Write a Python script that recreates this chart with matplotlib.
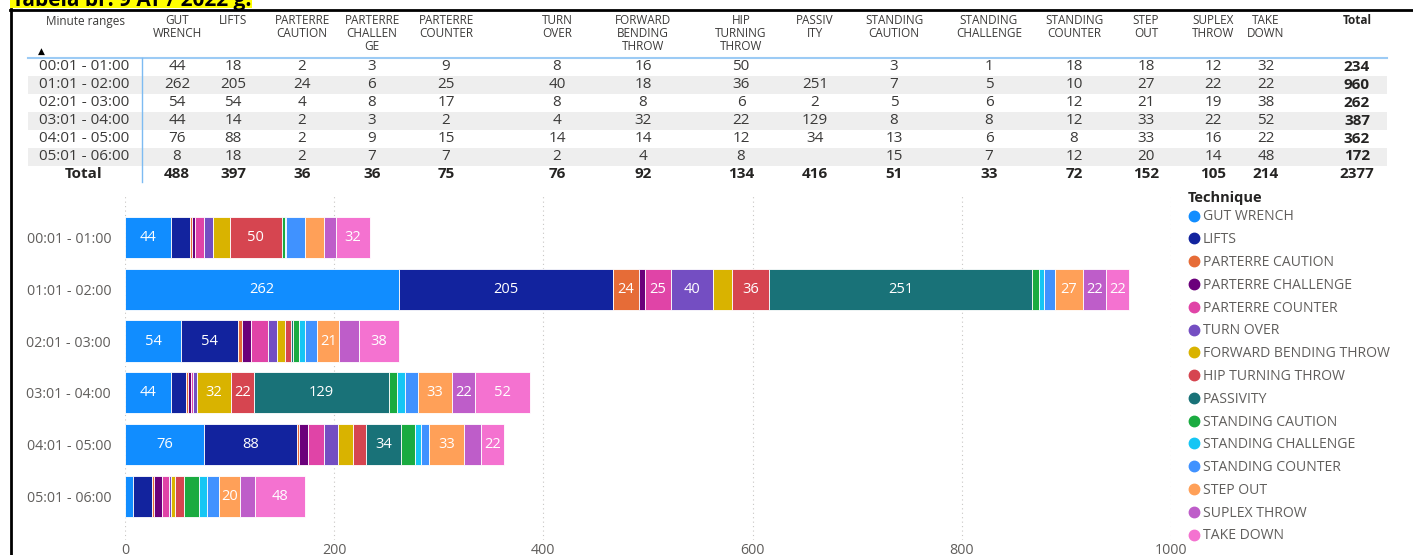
import matplotlib.pyplot as plt
from matplotlib.lines import Line2D
from matplotlib.patches import Rectangle

plt.rcParams['font.family'] = ['Open Sans', 'DejaVu Sans']

minute_ranges = ["00:01 - 01:00", "01:01 - 02:00", "02:01 - 03:00",
                 "03:01 - 04:00", "04:01 - 05:00", "05:01 - 06:00"]
techniques = ["GUT WRENCH", "LIFTS", "PARTERRE CAUTION", "PARTERRE CHALLENGE",
              "PARTERRE COUNTER", "TURN OVER", "FORWARD BENDING THROW",
              "HIP TURNING THROW", "PASSIVITY", "STANDING CAUTION",
              "STANDING CHALLENGE", "STANDING COUNTER", "STEP OUT",
              "SUPLEX THROW", "TAKE DOWN"]
header_labels = ["GUT\nWRENCH", "LIFTS", "PARTERRE\nCAUTION", "PARTERRE\nCHALLEN\nGE",
                 "PARTERRE\nCOUNTER", "TURN\nOVER", "FORWARD\nBENDING\nTHROW",
                 "HIP\nTURNING\nTHROW", "PASSIV\nITY", "STANDING\nCAUTION",
                 "STANDING\nCHALLENGE", "STANDING\nCOUNTER", "STEP\nOUT",
                 "SUPLEX\nTHROW", "TAKE\nDOWN"]
counts = [
    [44, 18, 2, 3, 9, 8, 16, 50, None, 3, 1, 18, 18, 12, 32],
    [262, 205, 24, 6, 25, 40, 18, 36, 251, 7, 5, 10, 27, 22, 22],
    [54, 54, 4, 8, 17, 8, 8, 6, 2, 5, 6, 12, 21, 19, 38],
    [44, 14, 2, 3, 2, 4, 32, 22, 129, 8, 8, 12, 33, 22, 52],
    [76, 88, 2, 9, 15, 14, 14, 12, 34, 13, 6, 8, 33, 16, 22],
    [8, 18, 2, 7, 7, 2, 4, 8, None, 15, 7, 12, 20, 14, 48],
]
colors = ["#118DFF", "#12239E", "#E66C37", "#6B007B", "#E044A7", "#744EC2",
          "#D9B300", "#D64550", "#197278", "#1AAB40", "#15C6F4", "#4092FF",
          "#FFA058", "#BE5DC9", "#F472D0"]

W, H = 1413, 555
fig = plt.figure(figsize=(W / 100, H / 100), dpi=100)

# ---- overlay in pixel coords for the table and frame
ov = fig.add_axes([0, 0, 1, 1], zorder=0)
ov.set_xlim(0, W)
ov.set_ylim(H, 0)
ov.axis('off')

ov.add_patch(Rectangle((10, -5), 242, 13, color='#FFFF00', lw=0))
ov.text(12, 6, "Tabela br. 9 AT / 2022 g.", fontsize=15, fontweight='bold',
        va='baseline', ha='left', color='black')
ov.plot([10, W], [9.5, 9.5], color='black', lw=2)
ov.plot([10.5, 10.5], [9, H], color='black', lw=2)

col_x = [177, 233, 302, 372, 446, 557, 643, 741, 815, 894, 989, 1074, 1146, 1213, 1266]
total_x = 1357
row_y = [67 + 17.9 * i for i in range(7)]
txt = '#3B3A39'
hsize = 8.5
vsize = 11

ov.text(85, 14.5, "Minute ranges", fontsize=hsize, ha='center', va='top', color=txt)
ov.text(41, 51, "\u25B2", fontsize=6.5, ha='center', va='center', color='black')
for x, lab in zip(col_x, header_labels):
    ov.text(x, 14.5, lab, fontsize=hsize, ha='center', va='top', color=txt,
            linespacing=0.97)
ov.text(total_x, 14.5, "Total", fontsize=hsize, ha='center', va='top', color='#252423',
        fontweight='bold')

for i in range(1, 6, 2):
    ov.add_patch(Rectangle((28, row_y[i] - 9), 1387 - 28, 18, color='#EEEEEE', lw=0))
ov.plot([28, 1387], [58, 58], color='#9CCBF5', lw=1.5)
ov.plot([142, 142], [58, 182], color='#7DBBF2', lw=1)

for i, (lab, row) in enumerate(zip(minute_ranges, counts)):
    y = row_y[i]
    ov.text(84, y, lab, fontsize=vsize, ha='center', va='center', color=txt)
    for x, v in zip(col_x, row):
        if v is not None:
            ov.text(x, y, str(v), fontsize=vsize, ha='center', va='center', color=txt)
    ov.text(total_x, y, str(sum(v or 0 for v in row)), fontsize=vsize, ha='center',
            va='center', color='#252423', fontweight='bold')

y = row_y[6]
ov.text(84, y, "Total", fontsize=vsize, ha='center', va='center', color='#252423',
        fontweight='bold')
for j, x in enumerate(col_x):
    ov.text(x, y, str(sum(r[j] or 0 for r in counts)), fontsize=vsize, ha='center',
            va='center', color='#252423', fontweight='bold')
ov.text(total_x, y, str(sum(sum(v or 0 for v in r) for r in counts)), fontsize=vsize,
        ha='center', va='center', color='#252423', fontweight='bold')

# ---- stacked bar chart
ax = fig.add_axes([125 / W, 1 - 540 / H, (1171 - 125) / W, (540 - 195) / H], zorder=1)
ax.set_facecolor('none')
ypos = list(range(len(minute_ranges)))
left = [0] * len(minute_ranges)
for j, tech in enumerate(techniques):
    vals = [r[j] or 0 for r in counts]
    bars = ax.barh(ypos, vals, left=left, height=0.79, color=colors[j],
                   edgecolor='white', linewidth=0.6, label=tech, zorder=2)
    for b, v in zip(bars, vals):
        if v >= 20:
            ax.text(b.get_x() + b.get_width() / 2, b.get_y() + b.get_height() / 2,
                    str(v), ha='center', va='center', color='white', fontsize=10.5,
                    zorder=3)
    left = [l + v for l, v in zip(left, vals)]

ax.set_xlim(0, 1000)
ax.set_ylim(5.83, -0.81)
ax.set_yticks(ypos)
ax.set_yticklabels(minute_ranges)
ax.set_xticks([0, 200, 400, 600, 800, 1000])
ax.tick_params(axis='both', length=0, colors='#605E5C', labelsize=10.3)
ax.tick_params(axis='y', pad=10)
ax.tick_params(axis='x', pad=2)
ax.grid(axis='x', color='#C8C6C4', linestyle=(0, (1, 3)), linewidth=0.8, zorder=0)
for s in ax.spines.values():
    s.set_visible(False)

# ---- legend
fig.text(1188 / W, 1 - 198 / H, "Technique", fontsize=10.5, fontweight='bold',
         color='#252423', ha='left', va='center')
handles = [Line2D([], [], marker='o', ls='', color=c, markersize=7.5) for c in colors]
leg = fig.legend(handles, techniques, loc='upper left',
                 bbox_to_anchor=(1189 / W, 1 - 209.5 / H), frameon=False,
                 fontsize=10.1, labelspacing=0.555, handlelength=0.7,
                 handletextpad=0.3, borderpad=0, borderaxespad=0)
for t in leg.get_texts():
    t.set_color('#605E5C')

fig.savefig('out.png', dpi=100)
